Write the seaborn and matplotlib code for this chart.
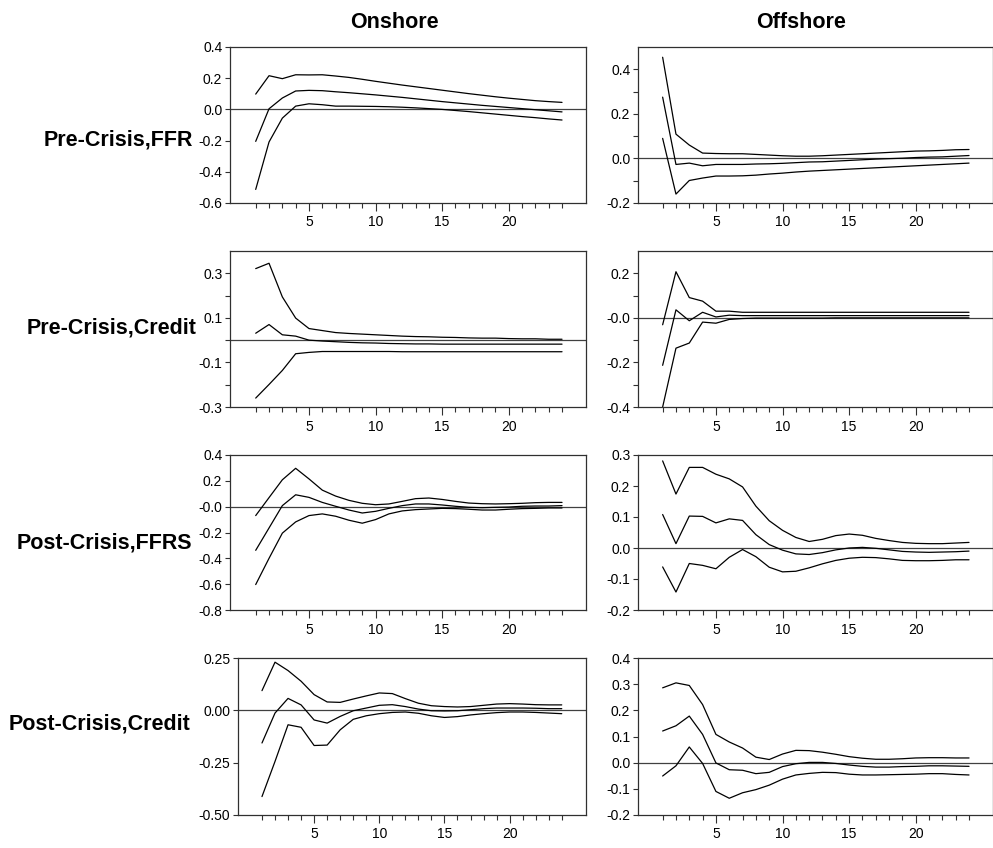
import matplotlib
matplotlib.use("Agg")
import matplotlib.pyplot as plt
from matplotlib import font_manager
import seaborn as sns
import pandas as pd

# ---------------- data ----------------
periods = list(range(1, 25))

col_titles = ["Onshore", "Offshore"]
row_labels = ["Pre-Crisis,FFR", "Pre-Crisis,Credit", "Post-Crisis,FFRS", "Post-Crisis,Credit"]

# Onshore, Pre-Crisis, FFR
on_pre_ffr_up = [0.098, 0.216, 0.197, 0.222, 0.221, 0.222, 0.214, 0.205, 0.193, 0.180, 0.168, 0.156,
                 0.145, 0.134, 0.123, 0.112, 0.101, 0.091, 0.081, 0.072, 0.064, 0.056, 0.050, 0.045]
on_pre_ffr_mid = [-0.205, 0.004, 0.073, 0.118, 0.122, 0.120, 0.113, 0.107, 0.100, 0.093, 0.085, 0.077,
                  0.068, 0.059, 0.050, 0.042, 0.034, 0.026, 0.019, 0.012, 0.005, -0.002, -0.009, -0.016]
on_pre_ffr_lo = [-0.513, -0.209, -0.056, 0.021, 0.036, 0.030, 0.021, 0.021, 0.020, 0.019, 0.017, 0.014,
                 0.010, 0.005, 0.000, -0.007, -0.014, -0.022, -0.030, -0.038, -0.046, -0.053, -0.061, -0.068]

# Offshore, Pre-Crisis, FFR
off_pre_ffr_up = [0.454, 0.109, 0.060, 0.024, 0.022, 0.021, 0.021, 0.018, 0.015, 0.012, 0.010, 0.010,
                  0.012, 0.015, 0.018, 0.021, 0.024, 0.027, 0.030, 0.033, 0.034, 0.036, 0.039, 0.040]
off_pre_ffr_mid = [0.275, -0.027, -0.021, -0.033, -0.027, -0.027, -0.027, -0.025, -0.024, -0.022, -0.019, -0.016,
                   -0.015, -0.012, -0.009, -0.006, -0.003, -0.001, 0.001, 0.004, 0.006, 0.007, 0.010, 0.013]
off_pre_ffr_lo = [0.090, -0.160, -0.099, -0.088, -0.079, -0.079, -0.078, -0.075, -0.070, -0.066, -0.061, -0.057,
                  -0.054, -0.051, -0.048, -0.045, -0.042, -0.039, -0.036, -0.033, -0.030, -0.027, -0.024, -0.021]

# Onshore, Pre-Crisis, Credit
on_pre_cr_up = [0.321, 0.345, 0.194, 0.099, 0.052, 0.043, 0.034, 0.030, 0.027, 0.024, 0.021, 0.018,
                0.016, 0.015, 0.013, 0.012, 0.010, 0.009, 0.009, 0.007, 0.006, 0.006, 0.004, 0.004]
on_pre_cr_mid = [0.031, 0.070, 0.024, 0.018, 0.000, -0.004, -0.007, -0.010, -0.012, -0.013, -0.015, -0.016,
                 -0.017, -0.017, -0.018, -0.018, -0.018, -0.018, -0.018, -0.018, -0.018, -0.018, -0.018, -0.018]
on_pre_cr_lo = [-0.260, -0.199, -0.136, -0.061, -0.055, -0.051, -0.051, -0.051, -0.051, -0.051, -0.051, -0.052,
                -0.052, -0.052, -0.052, -0.052, -0.052, -0.052, -0.052, -0.052, -0.052, -0.052, -0.052, -0.052]

# Offshore, Pre-Crisis, Credit
off_pre_cr_up = [-0.031, 0.207, 0.091, 0.075, 0.030, 0.030, 0.025, 0.025, 0.025, 0.025, 0.025, 0.025,
                 0.025, 0.025, 0.025, 0.025, 0.025, 0.025, 0.025, 0.025, 0.025, 0.025, 0.025, 0.025]
off_pre_cr_mid = [-0.213, 0.036, -0.013, 0.025, 0.004, 0.012, 0.010, 0.010, 0.010, 0.010, 0.010, 0.010,
                  0.010, 0.010, 0.010, 0.010, 0.010, 0.010, 0.010, 0.010, 0.010, 0.010, 0.010, 0.010]
off_pre_cr_lo = [-0.400, -0.136, -0.113, -0.019, -0.024, -0.007, -0.003, -0.001, -0.001, -0.001, -0.001, -0.001,
                 -0.001, 0.000, 0.000, 0.000, 0.000, 0.000, 0.000, 0.000, 0.000, 0.000, 0.000, 0.000]

# Onshore, Post-Crisis, FFRS
on_post_ffr_up = [-0.069, 0.070, 0.208, 0.297, 0.215, 0.128, 0.082, 0.049, 0.026, 0.015, 0.021, 0.041,
                  0.062, 0.067, 0.056, 0.041, 0.028, 0.023, 0.021, 0.023, 0.026, 0.031, 0.033, 0.033]
on_post_ffr_mid = [-0.338, -0.165, 0.008, 0.092, 0.072, 0.033, 0.003, -0.026, -0.049, -0.036, -0.013, 0.008,
                   0.021, 0.021, 0.013, 0.003, -0.005, -0.008, -0.005, -0.003, 0.003, 0.005, 0.005, 0.008]
on_post_ffr_lo = [-0.603, -0.400, -0.205, -0.118, -0.069, -0.056, -0.074, -0.105, -0.128, -0.100, -0.056, -0.033,
                  -0.023, -0.018, -0.013, -0.015, -0.020, -0.026, -0.026, -0.020, -0.015, -0.013, -0.010, -0.010]

# Offshore, Post-Crisis, FFRS
off_post_ffr_up = [0.281, 0.174, 0.260, 0.260, 0.238, 0.223, 0.197, 0.135, 0.088, 0.057, 0.034, 0.021,
                   0.028, 0.040, 0.045, 0.041, 0.031, 0.024, 0.018, 0.015, 0.014, 0.014, 0.016, 0.018]
off_post_ffr_mid = [0.108, 0.014, 0.103, 0.102, 0.081, 0.094, 0.089, 0.043, 0.011, -0.007, -0.019, -0.021,
                    -0.015, -0.006, 0.000, 0.002, -0.001, -0.006, -0.011, -0.013, -0.014, -0.013, -0.012, -0.010]
off_post_ffr_lo = [-0.061, -0.142, -0.050, -0.056, -0.067, -0.030, -0.005, -0.028, -0.062, -0.077, -0.075, -0.064,
                   -0.051, -0.040, -0.033, -0.030, -0.031, -0.035, -0.040, -0.041, -0.041, -0.040, -0.038, -0.038]

# Onshore, Post-Crisis, Credit
on_post_cr_up = [0.094, 0.230, 0.190, 0.139, 0.075, 0.040, 0.038, 0.054, 0.069, 0.083, 0.080, 0.056,
                 0.034, 0.022, 0.018, 0.016, 0.018, 0.024, 0.030, 0.032, 0.030, 0.027, 0.026, 0.026]
on_post_cr_mid = [-0.156, -0.013, 0.057, 0.026, -0.046, -0.061, -0.029, -0.002, 0.011, 0.024, 0.027, 0.018,
                  0.006, -0.002, -0.003, -0.002, 0.003, 0.008, 0.011, 0.011, 0.011, 0.010, 0.008, 0.008]
on_post_cr_lo = [-0.412, -0.244, -0.069, -0.081, -0.168, -0.166, -0.093, -0.043, -0.026, -0.016, -0.010, -0.008,
                 -0.014, -0.026, -0.034, -0.030, -0.022, -0.016, -0.011, -0.008, -0.008, -0.010, -0.013, -0.016]

# Offshore, Post-Crisis, Credit
off_post_cr_up = [0.286, 0.305, 0.295, 0.222, 0.108, 0.079, 0.056, 0.021, 0.012, 0.033, 0.047, 0.046,
                  0.040, 0.032, 0.023, 0.017, 0.013, 0.013, 0.015, 0.018, 0.019, 0.019, 0.018, 0.018]
off_post_cr_mid = [0.121, 0.141, 0.178, 0.108, -0.001, -0.027, -0.029, -0.042, -0.037, -0.015, -0.004, 0.001,
                   0.001, -0.003, -0.009, -0.014, -0.017, -0.017, -0.015, -0.014, -0.012, -0.012, -0.013, -0.014]
off_post_cr_lo = [-0.051, -0.012, 0.060, -0.003, -0.110, -0.136, -0.115, -0.103, -0.086, -0.063, -0.047, -0.041,
                  -0.037, -0.038, -0.044, -0.047, -0.047, -0.046, -0.045, -0.044, -0.042, -0.042, -0.045, -0.047]

# y-axis tick values and labels per panel
ticks_on_pre_ffr = [-0.6, -0.4, -0.2, 0.0, 0.2, 0.4]
labels_on_pre_ffr = ["-0.6", "-0.4", "-0.2", "0.0", "0.2", "0.4"]
ticks_off_pre_ffr = [-0.2, 0.0, 0.2, 0.4]
labels_off_pre_ffr = ["-0.2", "0.0", "0.2", "0.4"]
ticks_on_pre_cr = [-0.3, -0.1, 0.1, 0.3]
labels_on_pre_cr = ["-0.3", "-0.1", "0.1", "0.3"]
ticks_off_pre_cr = [-0.4, -0.2, 0.0, 0.2]
labels_off_pre_cr = ["-0.4", "-0.2", "-0.0", "0.2"]
ticks_on_post_ffr = [-0.8, -0.6, -0.4, -0.2, 0.0, 0.2, 0.4]
labels_on_post_ffr = ["-0.8", "-0.6", "-0.4", "-0.2", "-0.0", "0.2", "0.4"]
ticks_off_post_ffr = [-0.2, -0.1, 0.0, 0.1, 0.2, 0.3]
labels_off_post_ffr = ["-0.2", "-0.1", "0.0", "0.1", "0.2", "0.3"]
ticks_on_post_cr = [-0.5, -0.25, 0.0, 0.25]
labels_on_post_cr = ["-0.50", "-0.25", "0.00", "0.25"]
ticks_off_post_cr = [-0.2, -0.1, 0.0, 0.1, 0.2, 0.3, 0.4]
labels_off_post_cr = ["-0.2", "-0.1", "0.0", "0.1", "0.2", "0.3", "0.4"]

x_major_ticks = [5, 10, 15, 20]
x_major_labels = ["5", "10", "15", "20"]

# ---------------- style ----------------
sns.set_style("ticks")
names = {f.name for f in font_manager.fontManager.ttflist}
narrow = "Liberation Sans Narrow" in names
base_family = ["Liberation Sans Narrow", "Liberation Sans", "DejaVu Sans"] if narrow else ["Liberation Sans", "DejaVu Sans"]
plt.rcParams["font.family"] = base_family
plt.rcParams["axes.linewidth"] = 0.9
plt.rcParams["text.color"] = "black"
plt.rcParams["xtick.color"] = "black"
plt.rcParams["ytick.color"] = "black"
plt.rcParams["xtick.labelcolor"] = "black"
plt.rcParams["ytick.labelcolor"] = "black"

fig = plt.figure(figsize=(9.93, 8.48), dpi=100)
W, H = 993.0, 848.0

panels = [
    # (row, col, up, mid, lo, ylim, ticks, labels, minor)
    (0, 0, on_pre_ffr_up, on_pre_ffr_mid, on_pre_ffr_lo, (-0.6, 0.4), ticks_on_pre_ffr, labels_on_pre_ffr, []),
    (0, 1, off_pre_ffr_up, off_pre_ffr_mid, off_pre_ffr_lo, (-0.2, 0.5), ticks_off_pre_ffr, labels_off_pre_ffr, [-0.1, 0.1, 0.3]),
    (1, 0, on_pre_cr_up, on_pre_cr_mid, on_pre_cr_lo, (-0.3, 0.4), ticks_on_pre_cr, labels_on_pre_cr, [-0.2, 0.0, 0.2]),
    (1, 1, off_pre_cr_up, off_pre_cr_mid, off_pre_cr_lo, (-0.4, 0.3), ticks_off_pre_cr, labels_off_pre_cr, [-0.3, -0.1, 0.1]),
    (2, 0, on_post_ffr_up, on_post_ffr_mid, on_post_ffr_lo, (-0.8, 0.4), ticks_on_post_ffr, labels_on_post_ffr, []),
    (2, 1, off_post_ffr_up, off_post_ffr_mid, off_post_ffr_lo, (-0.2, 0.3), ticks_off_post_ffr, labels_off_post_ffr, []),
    (3, 0, on_post_cr_up, on_post_cr_mid, on_post_cr_lo, (-0.5, 0.25), ticks_on_post_cr, labels_on_post_cr, []),
    (3, 1, off_post_cr_up, off_post_cr_mid, off_post_cr_lo, (-0.2, 0.4), ticks_off_post_cr, labels_off_post_cr, []),
]

row_px = [(47, 203), (251, 407), (455, 610), (658, 815)]
frame_col = "#303030"

for (r, c, up, mid, lo, ylim, yt, ytl, yminor) in panels:
    top, bot = row_px[r]
    if c == 0:
        left, right = (238, 586) if r == 3 else (230, 586)
        xlim = (-0.84, 25.86) if r == 3 else (-0.93, 25.8)
    else:
        left, right = 638, 993
        xlim = (-0.85, 25.8)
    ax = fig.add_axes([left / W, 1 - bot / H, (right - left) / W, (bot - top) / H])
    df = pd.DataFrame({"period": periods * 3,
                       "value": list(up) + list(mid) + list(lo),
                       "band": ["up"] * 24 + ["mid"] * 24 + ["lo"] * 24})
    sns.lineplot(data=df, x="period", y="value", units="band", estimator=None,
                 color="black", linewidth=0.9, ax=ax, legend=False)
    ax.axhline(0, color="#404040", linewidth=0.9, zorder=0)
    ax.set_xlim(*xlim)
    ax.set_ylim(*ylim)
    ax.set_xticks(x_major_ticks)
    ax.set_xticklabels(x_major_labels)
    ax.set_xticks(periods, minor=True)
    ax.set_yticks(yt)
    ax.set_yticklabels(ytl)
    ax.set_yticks(yminor, minor=True)
    ax.set_xlabel("")
    ax.set_ylabel("")
    for s in ax.spines.values():
        s.set_color(frame_col)
        s.set_linewidth(0.9)
        s.set_visible(True)
    ax.tick_params(axis="x", which="major", length=6, width=0.8, pad=3, labelsize=10, color=frame_col)
    ax.tick_params(axis="x", which="minor", length=3.5, width=0.8, color=frame_col)
    ax.tick_params(axis="y", which="major", length=3.5, width=0.8, pad=2, labelsize=10, color=frame_col)
    ax.tick_params(axis="y", which="minor", length=3.5, width=0.8, color=frame_col)

# column titles
title_fs = 15.5
fig.text(394 / W, 1 - 22 / H, col_titles[0], ha="center", va="center", fontsize=title_fs,
         fontweight="bold", color="black")
fig.text(801 / W, 1 - 22 / H, col_titles[1], ha="center", va="center", fontsize=title_fs,
         fontweight="bold", color="black")

# row labels
row_fs = 15.5
label_pos = [(193, 140), (197, 328), (192, 543), (190, 724)]
for lab, (xr, yc) in zip(row_labels, label_pos):
    fig.text(xr / W, 1 - yc / H, lab, ha="right", va="center", fontsize=row_fs,
             fontweight="bold", color="black")

fig.savefig("out.png", dpi=100)
